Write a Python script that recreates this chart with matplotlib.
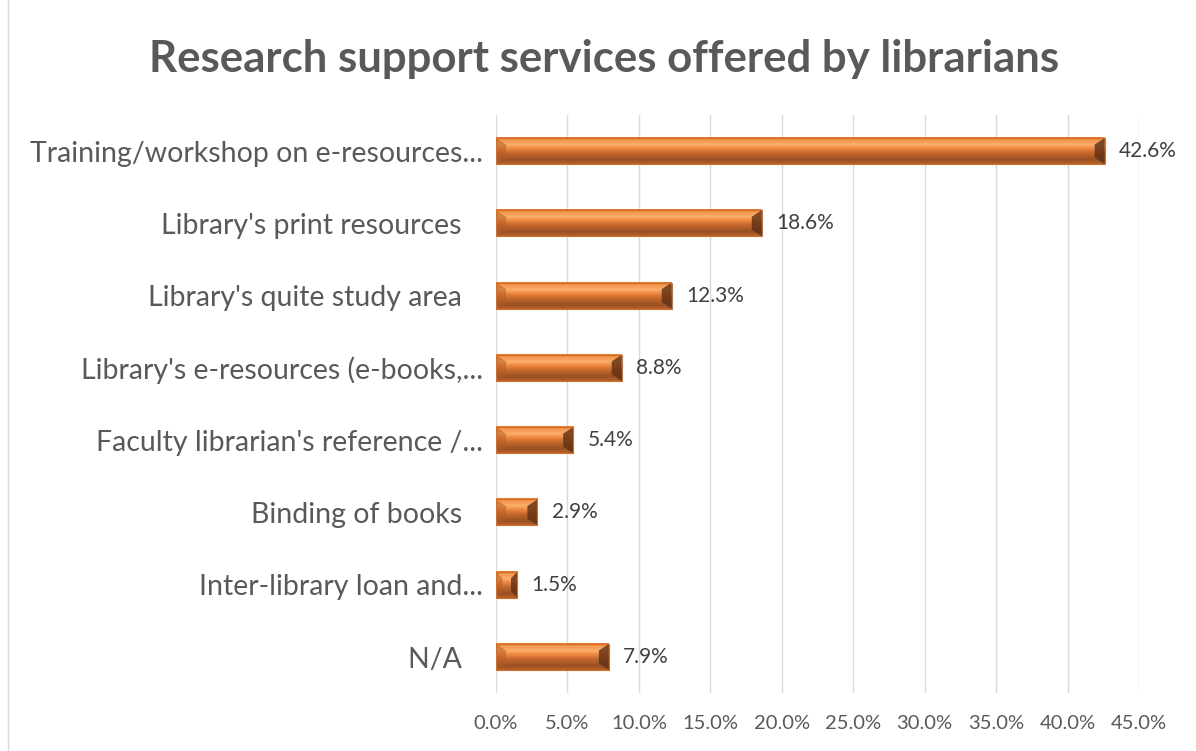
import matplotlib.pyplot as plt
import numpy as np
from matplotlib.colors import LinearSegmentedColormap
from matplotlib.patches import Polygon
from matplotlib.lines import Line2D

categories = [
    "Training/workshop on e-resources...",
    "Library's print resources   ",
    "Library's quite study area   ",
    "Library's e-resources (e-books,...",
    "Faculty librarian's reference /...",
    "Binding of books   ",
    "Inter-library loan and...",
    "N/A   ",
]
values = [42.6, 18.6, 12.3, 8.8, 5.4, 2.9, 1.5, 7.9]
ticks = [0, 5, 10, 15, 20, 25, 30, 35, 40, 45]

plt.rcParams['font.family'] = ['Lato', 'DejaVu Sans']
text_color = '#595959'

fig = plt.figure(figsize=(11.96, 7.51), dpi=100)
ax = fig.add_axes([0.4147, 0.077, 0.5376, 0.77])

# vertical shading used for the bevelled bars
bar_cmap = LinearSegmentedColormap.from_list('bevel', [
    (0.0, '#E8782E'), (0.12, '#F59A52'), (0.28, '#FBAE6C'),
    (0.42, '#EE8840'), (0.6, '#C4662C'), (0.85, '#985024'), (1.0, '#B8622A')])
grad = np.linspace(0, 1, 64).reshape(-1, 1)

n = len(categories)
ypos = np.arange(n)[::-1]
h = 0.36
for y, v in zip(ypos, values):
    ax.imshow(grad, cmap=bar_cmap, extent=[0, v, y - h / 2, y + h / 2],
              aspect='auto', origin='upper', zorder=3, interpolation='bilinear')
    d = min(0.7, v * 0.3)
    # right bevel (dark) and left bevel (slightly darker orange)
    ax.add_patch(Polygon([(v, y + h / 2), (v, y - h / 2), (v - d, y - h / 4), (v - d, y + h / 4)],
                         closed=True, facecolor='#5E3014', alpha=0.8, lw=0, zorder=4))
    ax.add_patch(Polygon([(0, y + h / 2), (0, y - h / 2), (d, y - h / 4), (d, y + h / 4)],
                         closed=True, facecolor='#B05E26', alpha=0.55, lw=0, zorder=4))
    ax.add_patch(plt.Rectangle((0, y - h / 2), v, h, fill=False, edgecolor='#D0702C',
                               lw=0.8, zorder=5))
    ax.text(v + 1.0, y, f"{v:.1f}%", va='center', ha='left', fontsize=15,
            color='#404040', zorder=5)

ax.set_xlim(0, 45)
ax.set_ylim(-0.5, n - 0.5)
ax.set_xticks(ticks)
ax.set_xticklabels([f"{t:.1f}%" for t in ticks], fontsize=14.5, color=text_color)
ax.set_yticks(ypos)
ax.set_yticklabels(categories, fontsize=20.5, color=text_color)
ax.tick_params(axis='both', length=0)
ax.tick_params(axis='y', pad=9)
ax.tick_params(axis='x', pad=16)
ax.grid(axis='x', color='#D9D9D9', lw=1, zorder=0)
for s in ax.spines.values():
    s.set_visible(False)

fig.text(0.505, 0.922, "Research support services offered by librarians",
         ha='center', va='center', fontsize=31.5, fontweight='bold', color=text_color)

# chart frame left edge
fig.add_artist(Line2D([0.0067, 0.0067], [0, 1], color='#D9D9D9', lw=1,
                      transform=fig.transFigure))

fig.savefig('out.png', dpi=100)
